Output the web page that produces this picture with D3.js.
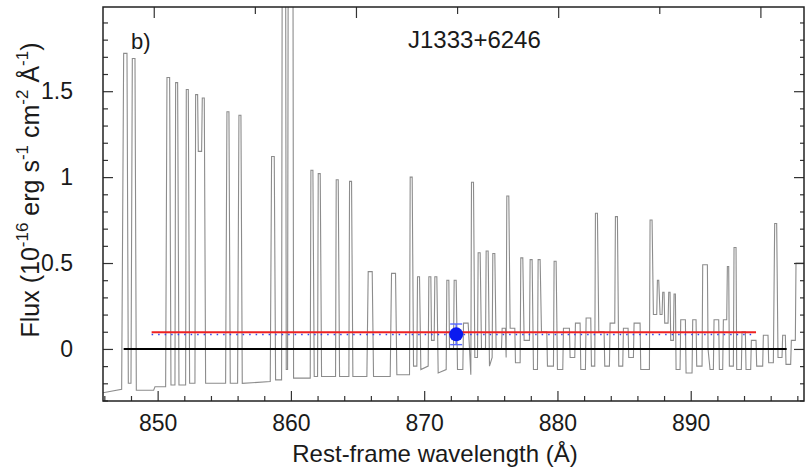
<!DOCTYPE html>
<html><head><meta charset="utf-8">
<script src="https://cdn.jsdelivr.net/npm/d3@7"></script>
<style>
html,body{margin:0;padding:0;background:#fff;}
text{font-family:"Liberation Sans",Arial,Helvetica,sans-serif;fill:#1a1a1a;}
</style></head>
<body><svg id="c" width="805" height="474"></svg>
<script>
// ---- data ----
const specWave = [845.9,847.3,847.45,847.7,847.8,848.0,848.1,848.3,848.4,849.7,849.8,850.6,
850.7,850.9,851.0,851.3,851.35,851.5,851.6,852.1,852.15,852.3,852.4,852.8,852.85,853.0,853.05,853.3,853.35,853.5,853.6,
855.1,855.2,855.35,855.45,856.0,856.1,856.25,856.35,858.45,858.55,858.75,858.85,859.3,859.35,859.6,859.65,859.75,859.8,860.15,860.2,
861.45,861.5,861.65,861.75,862.0,862.05,862.2,862.3,863.35,863.4,863.55,863.65,864.35,864.4,864.55,864.65,
865.7,865.8,866.1,866.2,867.45,867.55,867.85,867.95,868.9,868.95,869.1,869.2,869.45,869.5,869.65,869.75,
870.3,870.35,870.5,870.55,870.75,870.8,870.95,871.05,871.65,871.7,871.85,871.9,872.2,872.25,872.4,872.5,
872.9,872.95,873.3,873.5,873.55,873.7,873.8,874.0,874.05,874.2,874.3,874.6,874.65,874.8,874.9,875.1,875.15,875.3,875.4,875.8,
875.85,876.1,876.15,876.2,876.35,876.45,876.8,876.85,877.2,877.25,877.4,877.5,877.9,877.95,878.1,878.2,878.5,878.55,878.7,878.8,
879.2,879.25,879.7,879.75,879.9,880.0,880.4,880.45,880.9,880.95,881.3,881.35,881.7,881.75,882.1,882.15,882.5,882.55,882.8,
882.85,883.0,883.1,883.5,883.55,883.9,883.95,884.3,884.35,884.5,884.6,884.9,884.95,885.3,885.35,885.7,885.75,886.2,886.25,886.9,
886.95,887.1,887.2,887.45,887.5,887.6,887.7,887.85,887.9,888.0,888.05,888.3,888.35,888.45,888.5,888.7,888.75,888.85,888.9,889.2,
889.25,889.6,889.65,890.1,890.15,890.4,890.45,890.85,890.9,891.25,891.3,891.45,891.7,891.75,892.1,892.15,892.4,892.45,892.7,
892.75,892.85,892.9,893.2,893.25,893.4,893.45,893.8,893.85,894.1,894.15,894.5,894.55,894.9,894.95,895.4,895.45,895.8,895.85,896.2,
896.3,896.45,896.55,896.85,896.9,897.1,897.15,897.5,897.55,897.85,897.9,898.6];
const specFlux = [-0.255,-0.235,1.72,1.72,-0.2,-0.2,1.69,1.69,-0.24,-0.24,-0.22,-0.22,
1.58,1.58,-0.21,-0.21,1.55,1.55,-0.21,-0.21,1.51,1.51,-0.2,-0.2,1.48,1.48,1.15,1.15,1.46,1.46,-0.2,
-0.2,1.38,1.38,-0.2,-0.2,1.36,1.36,-0.2,-0.19,1.12,1.12,-0.18,-0.18,2.5,2.5,-0.12,-0.12,2.5,2.5,-0.17,
-0.17,1.04,1.04,-0.16,-0.16,1.02,1.02,-0.16,-0.16,0.985,0.985,-0.16,-0.16,0.975,0.975,-0.16,
-0.16,0.45,0.45,-0.16,-0.16,0.44,0.44,-0.15,-0.15,1.0,1.0,-0.1,-0.1,0.42,0.42,-0.12,
-0.1,0.42,0.42,0.05,0.05,0.42,0.42,-0.14,-0.12,0.40,0.40,0.0,0.0,0.40,0.40,-0.12,
-0.12,0.15,0.15,-0.15,0.97,0.97,-0.05,-0.05,0.56,0.56,0.0,0.0,0.57,0.57,-0.1,-0.05,0.555,0.555,0.0,0.0,
0.12,0.12,-0.05,0.89,0.89,0.12,0.12,-0.08,-0.08,0.53,0.53,0.05,0.05,0.52,0.52,-0.12,-0.12,0.52,0.52,0.1,
0.1,-0.1,-0.1,0.51,0.51,-0.12,-0.12,0.12,0.12,-0.05,-0.05,0.15,0.15,-0.12,-0.12,0.18,0.18,-0.1,-0.1,
0.79,0.79,0.1,0.1,-0.1,-0.1,0.15,0.15,0.77,0.77,-0.1,-0.1,0.12,0.12,-0.05,-0.05,0.15,0.15,-0.12,-0.12,
0.75,0.75,0.2,0.2,0.40,0.40,0.2,0.2,0.33,0.33,0.15,0.15,0.33,0.33,0.05,0.05,0.32,0.32,-0.12,-0.12,
0.17,0.17,-0.14,-0.14,0.17,0.17,-0.1,-0.1,0.49,0.49,0.0,-0.12,-0.12,0.17,0.17,-0.12,-0.12,0.17,0.17,
0.48,0.48,-0.1,-0.1,0.59,0.59,-0.12,-0.12,0.1,0.1,-0.12,-0.12,0.05,0.05,-0.1,-0.1,0.08,0.08,-0.08,-0.08,
0.73,0.73,-0.05,-0.05,0.08,0.08,-0.09,-0.09,0.05,0.05,0.5,0.5];

const xTicksMajor = [850,860,870,880,890];
const yTicksMajor = [0,0.5,1,1.5];
const yTickLabels = ["0","0.5","1","1.5"];
const obsTicks = [1120,1130,1140,1150,1160,1170,1180];
const redshift = 0.3181;
const limitWave = [849.55,894.9];
const limitFlux = [0.097,0.097];
const zeroWave = [847.45,897.2];
const pointWave = [872.4];
const pointFlux = [0.085];
const pointErr = [0.06];
const objectName = "J1333+6246";
const panelLabel = "b)";

// ---- layout ----
const svg = d3.select("#c");
const L = 103, R = 804, T = 7, B = 401;
const x = d3.scaleLinear().domain([845.9, 898.5]).range([L, R]);
const y = d3.scaleLinear().domain([-0.303, 1.99]).range([B, T]);
const xTop = d3.scaleLinear().domain([845.9*(1+redshift), 898.5*(1+redshift)]).range([L, R]);

svg.append("clipPath").attr("id","clip").append("rect")
  .attr("x",L).attr("y",T).attr("width",R-L).attr("height",B-T);

const g = svg.append("g").attr("clip-path","url(#clip)");
const spec = specWave.map((w,i)=>[w,specFlux[i]]);
g.append("path").datum(spec)
  .attr("d", d3.line().x(d=>x(d[0])).y(d=>y(d[1])))
  .attr("fill","none").attr("stroke","#8c8c8c").attr("stroke-width",1.1);

// zero line
g.append("path").datum(zeroWave.map(w=>[w,0]))
  .attr("d", d3.line().x(d=>x(d[0])).y(d=>y(d[1])))
  .attr("stroke","#000").attr("stroke-width",2);

// blue dotted + red limit line
g.append("path").datum(limitWave.map(w=>[w,limitFlux[0]-0.013]))
  .attr("d", d3.line().x(d=>x(d[0])).y(d=>y(d[1])))
  .attr("stroke","#3344ee").attr("stroke-width",1.5).attr("stroke-dasharray","1.5,5");
g.append("path").datum(limitWave.map((w,i)=>[w,limitFlux[i]]))
  .attr("d", d3.line().x(d=>x(d[0])).y(d=>y(d[1])))
  .attr("stroke","#ee2222").attr("stroke-width",2.2);

// point with error bar
pointWave.forEach((w,i)=>{
  const cx = x(w), f = pointFlux[i], e = pointErr[i];
  g.append("line").attr("x1",cx).attr("x2",cx).attr("y1",y(f-e)).attr("y2",y(f+e))
    .attr("stroke","#5566ff").attr("stroke-width",1.4);
  [f-e,f+e].forEach(v=>g.append("line").attr("x1",cx-6).attr("x2",cx+6).attr("y1",y(v)).attr("y2",y(v))
    .attr("stroke","#5566ff").attr("stroke-width",1.4));
  g.append("circle").attr("cx",cx).attr("cy",y(f)).attr("r",7).attr("fill","#0a1af0");
});

// ---- axes ----
const axG = svg.append("g");
const xMinor = d3.range(846, 899, 2).filter(v=>!xTicksMajor.includes(v));
const yMinor = d3.range(-0.3, 2.0, 0.1).map(v=>+v.toFixed(1)).filter(v=>!yTicksMajor.includes(v));

axG.append("g").attr("transform",`translate(0,${B})`)
  .call(d3.axisBottom(x).tickValues(xTicksMajor).tickSize(-10).tickFormat(d3.format("d")).tickPadding(14))
  .call(a=>{a.select(".domain").remove();a.selectAll("text").attr("font-size",23).attr("dy","0.71em");});
axG.append("g").attr("transform",`translate(0,${B})`)
  .call(d3.axisBottom(x).tickValues(xMinor).tickSize(-5).tickFormat(""))
  .call(a=>a.select(".domain").remove());
axG.append("g").attr("transform",`translate(0,${T})`)
  .call(d3.axisTop(xTop).tickValues(obsTicks.filter(v=>v%20===0)).tickSize(-11).tickFormat(""))
  .call(a=>a.select(".domain").remove());
axG.append("g").attr("transform",`translate(0,${T})`)
  .call(d3.axisTop(xTop).tickValues(obsTicks.filter(v=>v%20!==0)).tickSize(-7).tickFormat(""))
  .call(a=>a.select(".domain").remove());

axG.append("g").attr("transform",`translate(${L},0)`)
  .call(d3.axisLeft(y).tickValues(yTicksMajor).tickSize(-10).tickFormat((d,i)=>yTickLabels[i]).tickPadding(30))
  .call(a=>{a.select(".domain").remove();a.selectAll("text").attr("font-size",23);});
axG.append("g").attr("transform",`translate(${L},0)`)
  .call(d3.axisLeft(y).tickValues(yMinor).tickSize(-5).tickFormat(""))
  .call(a=>a.select(".domain").remove());
axG.append("g").attr("transform",`translate(${R},0)`)
  .call(d3.axisRight(y).tickValues(yTicksMajor).tickSize(-10).tickFormat(""))
  .call(a=>a.select(".domain").remove());
axG.append("g").attr("transform",`translate(${R},0)`)
  .call(d3.axisRight(y).tickValues(yMinor).tickSize(-4).tickFormat(""))
  .call(a=>a.select(".domain").remove());
axG.selectAll(".tick line").attr("stroke","#333").attr("stroke-width",1.2);

svg.append("rect").attr("x",L).attr("y",T).attr("width",R-L).attr("height",B-T)
  .attr("fill","none").attr("stroke","#222").attr("stroke-width",1.5);

// ---- labels ----
svg.append("text").attr("x",435).attr("y",462).attr("text-anchor","middle")
  .attr("font-size",24).text("Rest-frame wavelength (Å)");

const yl = svg.append("text").attr("transform","translate(39,190) rotate(-90)")
  .attr("text-anchor","middle").attr("font-size",25);
const parts = [["Flux (10",0],["-16",1],[" erg s",0],["-1",1],[" cm",0],["-2",1],[" Å",0],["-1",1],[")",0]];
parts.forEach(([t,s],i)=>{
  const ts = yl.append("tspan").text(t);
  if(s){ ts.attr("font-size",17).attr("dy",-11); }
  else if(i>0 && parts[i-1][1]) { ts.attr("dy",11); }
});

svg.append("text").attr("x",131).attr("y",49).attr("font-size",22).text(panelLabel);
svg.append("text").attr("x",408).attr("y",48).attr("font-size",24).text(objectName);
</script></body></html>
